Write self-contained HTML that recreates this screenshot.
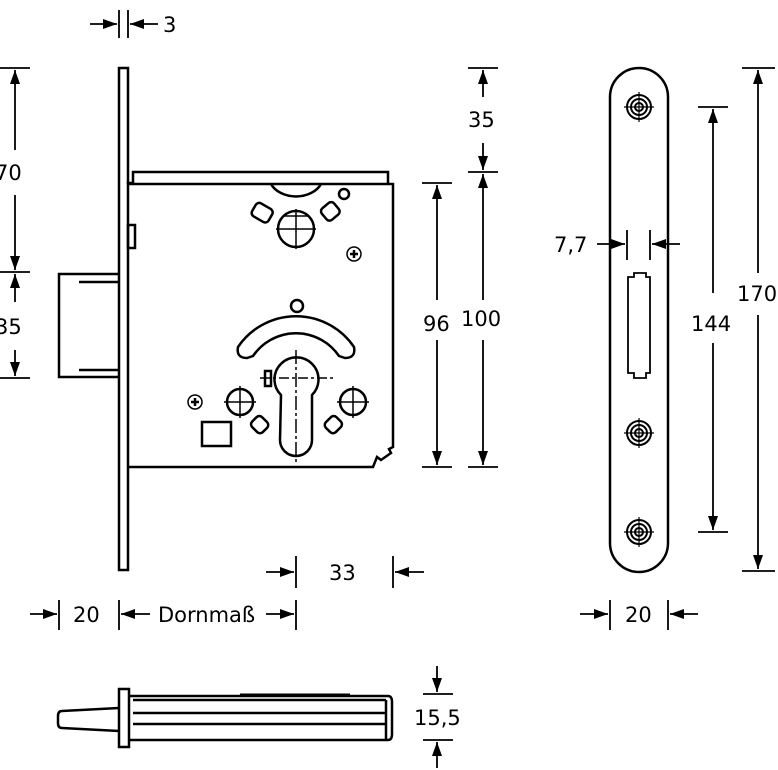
<!DOCTYPE html>
<html><head><meta charset="utf-8"><style>
html,body{margin:0;padding:0;background:#fff}
svg{display:block}
text{font-family:"DejaVu Sans","Liberation Sans",sans-serif;font-size:21px;fill:#000}
</style></head><body>
<svg width="778" height="770" viewBox="0 0 778 770" xmlns="http://www.w3.org/2000/svg">
<defs>
<marker id="a" viewBox="0 0 14 10" refX="14" refY="5" markerWidth="14" markerHeight="10" markerUnits="userSpaceOnUse" orient="auto"><path d="M0,0L14,5L0,10Z" fill="#000"/></marker>
</defs>
<g fill="none" stroke="#000" stroke-width="2.5">
<rect x="119" y="68" width="9" height="502"/>
<path d="M119,274H59V377H119"/>
<path d="M79,282H119M79,370H119"/>
<path d="M128,184V183H133V172H388V184"/>
<path d="M128,184H393V447L389,449L391,453L381,460L377,457L373,467H128"/>
<rect x="128" y="225" width="7" height="23"/>
<path d="M271,184A27,20 0 0 0 321,184"/>
<circle cx="344" cy="194" r="5"/>
<circle cx="296" cy="229" r="18"/>
<path d="M276,229H316M296,209V249M283,216H309" stroke-width="1.5"/>
<rect x="253" y="205" width="19" height="15" rx="4" transform="rotate(30 262 212)"/>
<rect x="322" y="204" width="16" height="15" rx="4" transform="rotate(-40 330 211)"/>
<circle cx="354" cy="254" r="7" stroke-width="1.5"/>
<path d="M350,254H358M354,250V258" stroke-width="2.5"/>
<circle cx="297" cy="306" r="6"/>
<path d="M238,347A70,70 0 0 1 354,347Q356,358 345,358Q342,357 339,356A52,52 0 0 0 253,356Q250,357 247,358Q236,358 238,347Z"/>
<path d="M281,395A22,22 0 1 1 312,395V440A16,16 0 0 1 280,440Z"/>
<rect x="265" y="371" width="6" height="15"/>
<path d="M260,378H334" stroke-dasharray="10,3,3,3" stroke-width="1.5"/>
<path d="M296,350V465" stroke-dasharray="14,3,3,3" stroke-width="1.5"/>
<circle cx="240" cy="402" r="13"/>
<path d="M224,402H256M240,386V418" stroke-width="1.5"/>
<circle cx="353" cy="402" r="13"/>
<path d="M337,402H369M353,386V418" stroke-width="1.5"/>
<circle cx="195" cy="402" r="7" stroke-width="1.5"/>
<path d="M191,402H199M195,398V406" stroke-width="2.5"/>
<rect x="202" y="422" width="29" height="24"/>
<rect x="252" y="418" width="15" height="14" rx="4" transform="rotate(45 260 425)"/>
<rect x="326" y="418" width="15" height="14" rx="4" transform="rotate(-45 333 425)"/>

<rect x="610" y="68" width="58" height="504" rx="29"/>
<g stroke-width="2">
<circle cx="639" cy="107" r="12"/><circle cx="639" cy="107" r="8"/><circle cx="639" cy="107" r="4"/><path d="M624,107H654M639,92V122" stroke-width="1.2"/>
<circle cx="639" cy="433" r="12"/><circle cx="639" cy="433" r="8"/><circle cx="639" cy="433" r="4"/><path d="M624,433H654M639,418V448" stroke-width="1.2"/>
<circle cx="639" cy="532" r="12"/><circle cx="639" cy="532" r="8"/><circle cx="639" cy="532" r="4"/><path d="M624,532H654M639,517V547" stroke-width="1.2"/>
</g>
<path d="M634,273H646V277H650V373H646V378H634V373H628V277H634Z" stroke-width="1.8"/>

<path d="M119,708L62,711Q58,711 58,716V723Q58,728 62,728L119,731" />
<rect x="119" y="689" width="10" height="58"/>
<path d="M129,696H388Q392,696 392,702V734Q392,740 388,740H129"/>
<path d="M133,700H386M133,713H386M133,724H386M386,700V740"/>
<path d="M240,695H350" stroke-width="3"/>

<g stroke-width="1.8">
<path d="M119,10V38M128,10V38"/>
<path d="M90,24H117" marker-end="url(#a)"/>
<path d="M158,24H130" marker-end="url(#a)"/>
<path d="M0,68H30M0,272H30M0,378H30"/>
<path d="M15,150V70" marker-end="url(#a)"/>
<path d="M15,195V270" marker-end="url(#a)"/>
<path d="M15,302V274" marker-end="url(#a)"/>
<path d="M15,350V376" marker-end="url(#a)"/>
<path d="M468,68H498M468,172H498M422,183H452M468,467H498M422,467H452"/>
<path d="M483,97V70" marker-end="url(#a)"/>
<path d="M483,143V170" marker-end="url(#a)"/>
<path d="M483,300V174" marker-end="url(#a)"/>
<path d="M483,340V465" marker-end="url(#a)"/>
<path d="M437,300V185" marker-end="url(#a)"/>
<path d="M437,340V465" marker-end="url(#a)"/>
<path d="M296,556V588M393,556V588"/>
<path d="M266,572H294" marker-end="url(#a)"/>
<path d="M424,572H395" marker-end="url(#a)"/>
<path d="M59,600V630M119,600V630M296,600V630"/>
<path d="M30,614H57" marker-end="url(#a)"/>
<path d="M150,614H121" marker-end="url(#a)"/>
<path d="M266,614H294" marker-end="url(#a)"/>
<path d="M610,600V630M668,600V630"/>
<path d="M580,614H608" marker-end="url(#a)"/>
<path d="M698,614H670" marker-end="url(#a)"/>
<path d="M627,230V260M650,230V260"/>
<path d="M597,244H625" marker-end="url(#a)"/>
<path d="M680,244H652" marker-end="url(#a)"/>
<path d="M698,107H728M698,532H728"/>
<path d="M713,293V109" marker-end="url(#a)"/>
<path d="M713,343V530" marker-end="url(#a)"/>
<path d="M742,68H775M742,571H775"/>
<path d="M758,273V70" marker-end="url(#a)"/>
<path d="M758,315V569" marker-end="url(#a)"/>
<path d="M423,694H453M423,740H453"/>
<path d="M437,666V692" marker-end="url(#a)"/>
<path d="M437,768V742" marker-end="url(#a)"/>
</g>
</g>
<text x="163" y="32">3</text>
<text x="-5" y="180">70</text>
<text x="-5" y="334">35</text>
<text x="468" y="127">35</text>
<text x="423" y="331">96</text>
<text x="461" y="326">100</text>
<text x="329" y="580">33</text>
<text x="73" y="622">20</text>
<text x="158" y="622">Dornmaß</text>
<text x="625" y="622">20</text>
<text x="554" y="252">7,7</text>
<text x="691" y="331">144</text>
<text x="737" y="301">170</text>
<text x="414" y="725">15,5</text>
</svg>
</body></html>
